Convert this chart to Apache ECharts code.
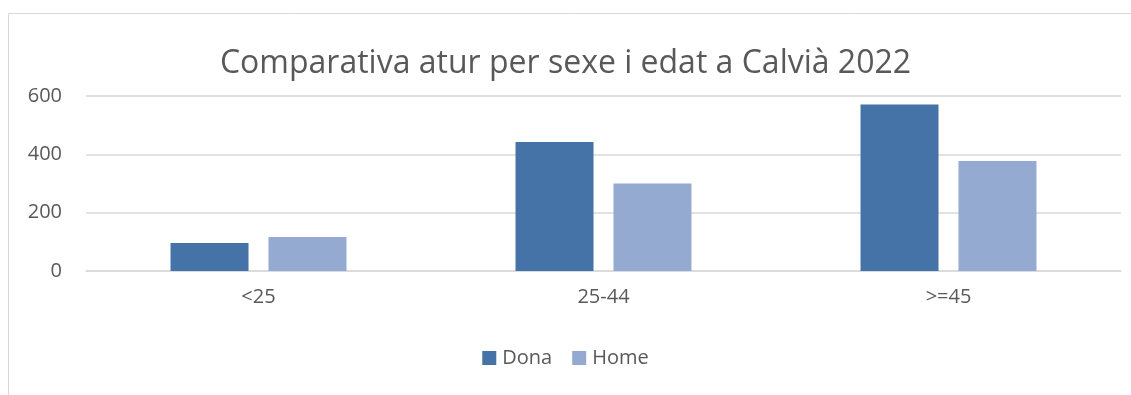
<!DOCTYPE html>
<html>
<head>
<meta charset="utf-8">
<script src="https://cdn.jsdelivr.net/npm/echarts@6/dist/echarts.min.js"></script>
<style>
  html, body { margin: 0; padding: 0; background: #fff; }
  #chart { width: 1131px; height: 395px; }
</style>
</head>
<body>
<div id="chart"></div>
<script>
// Unemployment in Calvià 2022, by age group and sex
const titleText = 'Comparativa atur per sexe i edat a Calvià 2022';
const categories = ['<25', '25-44', '>=45'];
const dona = [96, 442, 571];
const home = [117, 300, 377];

const FONT = '"Open Sans", "Liberation Sans", sans-serif';
const TEXT = '#595959';

const chart = echarts.init(document.getElementById('chart'), null, { renderer: 'canvas' });
chart.setOption({
  backgroundColor: '#fff',
  animation: false,
  graphic: [{
    type: 'rect',
    shape: { x: 8.5, y: 13.5, width: 1200, height: 500 },
    style: { fill: 'none', stroke: '#d9d9d9', lineWidth: 1 },
    silent: true,
    z: -1
  }],
  title: {
    text: titleText,
    left: 'center',
    top: 43,
    textStyle: { fontFamily: FONT, fontSize: 32, fontWeight: 'normal', color: TEXT }
  },
  legend: {
    top: 343,
    left: 'center',
    itemWidth: 14,
    itemHeight: 14,
    itemGap: 20,
    icon: 'rect',
    textStyle: { fontFamily: FONT, fontSize: 20, color: TEXT, padding: [0, 0, 0, 1] }
  },
  grid: { left: 86, right: 10, top: 96, bottom: 124 },
  xAxis: {
    type: 'category',
    data: categories,
    axisLine: { show: true, lineStyle: { color: '#d9d9d9', width: 1.5 } },
    axisTick: { show: false },
    axisLabel: { fontFamily: FONT, fontSize: 20, color: TEXT, margin: 16 }
  },
  yAxis: {
    type: 'value',
    min: 0,
    max: 600,
    interval: 200,
    axisLine: { show: false },
    axisTick: { show: false },
    splitLine: { lineStyle: { color: '#d9d9d9', width: 1.5 } },
    axisLabel: { fontFamily: FONT, fontSize: 20, color: TEXT, margin: 24 }
  },
  series: [
    {
      name: 'Dona', type: 'bar', data: dona,
      barWidth: 78, barGap: '25.6%',
      itemStyle: { color: '#4573a7' }
    },
    {
      name: 'Home', type: 'bar', data: home,
      barWidth: 78,
      itemStyle: { color: '#95aad1' }
    }
  ]
});
</script>
</body>
</html>
